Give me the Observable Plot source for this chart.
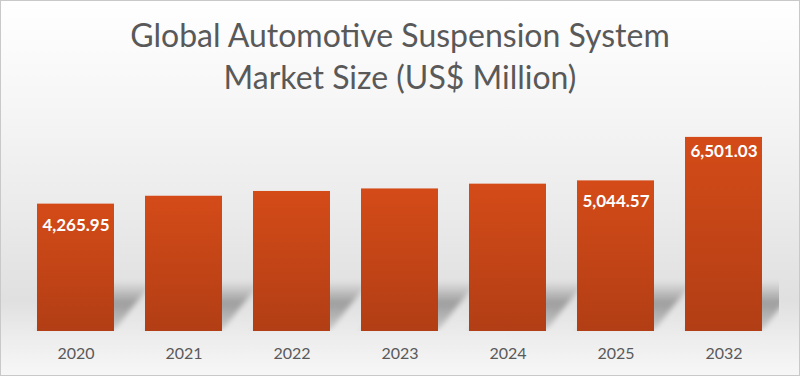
<!DOCTYPE html>
<html><head><meta charset="utf-8">
<script src="https://cdn.jsdelivr.net/npm/d3@7"></script>
<script src="https://cdn.jsdelivr.net/npm/@observablehq/plot@0.6"></script>
<style>
body{margin:0;}
#c{position:relative;width:800px;height:376px;overflow:hidden;
 background:linear-gradient(to bottom,#ffffff 0%,#f7f7f7 25%,#ebebeb 55%,#e0e0e0 80%,#ededed 90%,#f7f7f7 100%);
 box-shadow:inset 0 0 0 1px #c9c9c9;font-family:Lato,sans-serif;}
#t{position:absolute;top:14px;left:0;width:800px;text-align:center;font-size:32px;line-height:42px;color:#595959;}
#p{position:absolute;top:110px;left:0;}
</style></head>
<body>
<div id="c"><div id="t">Global Automotive Suspension System<br>Market Size (US$ Million)</div><div id="p"></div></div>
<script>
const years = ["2020","2021","2022","2023","2024","2025","2032"];
const values = [4265.95, 4530, 4690, 4775, 4935, 5044.57, 6501.03];
const labelYears = ["2020","2025"];
const topLabelYears = ["2032"];

const data = years.map((y,i)=>({year:y, value:values[i]}));
const fmt = d3.format(",.2f");

const plot = Plot.plot({
  width: 800, height: 266,
  marginLeft: 21, marginRight: 22, marginTop: 12, marginBottom: 45,
  style: {background:"transparent", fontFamily:"Lato, sans-serif", fontSize:"16px", color:"#595959"},
  x: {domain: years, padding: 0.287, paddingOuter: 0.1435, label: null},
  y: {domain: [0, 7000], axis: null},
  marks: [
    Plot.barY(data, {x:"year", y:"value", fill:"url(#shadowGrad)"}),
    Plot.barY(data, {x:"year", y:"value", fill:"url(#barGrad)"}),
    Plot.axisX({tickSize:0, tickPadding:16, fontSize:16, fill:"#595959", label:null}),
    Plot.text(data.filter(d=>labelYears.includes(d.year)), {x:"year", y:"value", text:d=>fmt(d.value), dy:21, fill:"white", fontWeight:"bold", fontSize:17}),
    Plot.text(data.filter(d=>topLabelYears.includes(d.year)), {x:"year", y:"value", text:d=>fmt(d.value), dy:14, fill:"white", fontWeight:"bold", fontSize:17})
  ]
});
document.getElementById("p").appendChild(plot);

const svg = d3.select(plot);
const y0 = plot.scale("y").apply(0);
const defs = svg.insert("defs", ":first-child");
const bg = defs.append("linearGradient").attr("id","barGrad").attr("x1",0).attr("y1",0).attr("x2",0).attr("y2",1);
bg.append("stop").attr("offset","0%").attr("stop-color","#d44b18");
bg.append("stop").attr("offset","100%").attr("stop-color","#b23e15");
const sg = defs.append("linearGradient").attr("id","shadowGrad").attr("gradientUnits","userSpaceOnUse")
  .attr("x1",0).attr("y1",y0-50).attr("x2",0).attr("y2",y0);
sg.append("stop").attr("offset","0%").attr("stop-color","#000").attr("stop-opacity",0);
sg.append("stop").attr("offset","45%").attr("stop-color","#000").attr("stop-opacity",0.3);
sg.append("stop").attr("offset","100%").attr("stop-color","#000").attr("stop-opacity",0.12);
defs.append("filter").attr("id","blur").attr("x","-20%").attr("y","-20%").attr("width","140%").attr("height","140%")
  .append("feGaussianBlur").attr("stdDeviation",3);
defs.append("clipPath").attr("id","clipS").append("rect").attr("x",0).attr("y",0).attr("width",779).attr("height",y0);

const bars = svg.selectAll('g[aria-label="bar"]').nodes();
const sh = bars[0];
const wrap = svg.insert("g", () => sh).attr("clip-path","url(#clipS)");
const inner = wrap.append("g").attr("filter","url(#blur)")
  .attr("transform",`translate(0,${y0}) skewX(-38) translate(0,${-y0})`);
inner.node().appendChild(sh);
</script>
</body></html>
